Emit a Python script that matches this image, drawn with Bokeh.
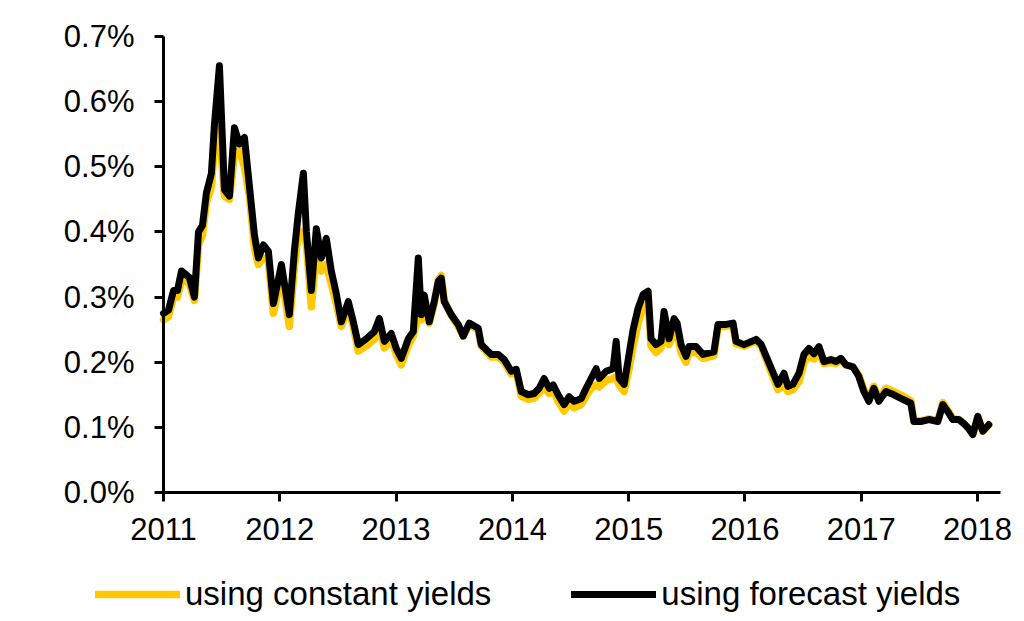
from bokeh.plotting import figure
from bokeh.models import (Legend, LegendItem, FixedTicker, PrintfTickFormatter,
                          Range1d, ColumnDataSource)
from bokeh.embed import file_html
from bokeh.resources import INLINE

# decimal years of the readings
dates = [
    2011.000, 2011.043, 2011.086, 2011.120, 2011.155, 2011.189, 2011.223, 2011.266,
    2011.301, 2011.335, 2011.369, 2011.412, 2011.438, 2011.481, 2011.524, 2011.567,
    2011.610, 2011.653, 2011.696, 2011.739, 2011.782, 2011.816, 2011.859, 2011.902,
    2011.945, 2012.014, 2012.082, 2012.125, 2012.160, 2012.203, 2012.229, 2012.271,
    2012.314, 2012.357, 2012.400, 2012.443, 2012.486, 2012.529, 2012.589, 2012.632,
    2012.675, 2012.744, 2012.813, 2012.856, 2012.899, 2012.959, 2013.002, 2013.045,
    2013.105, 2013.148, 2013.191, 2013.216, 2013.242, 2013.285, 2013.328, 2013.363,
    2013.388, 2013.414, 2013.474, 2013.534, 2013.577, 2013.629, 2013.706, 2013.732,
    2013.818, 2013.878, 2013.930, 2013.990, 2014.033, 2014.076, 2014.136, 2014.187,
    2014.230, 2014.273, 2014.316, 2014.351, 2014.393, 2014.445, 2014.488, 2014.531,
    2014.591, 2014.634, 2014.677, 2014.720, 2014.746, 2014.806, 2014.866, 2014.892,
    2014.918, 2014.961, 2015.003, 2015.038, 2015.081, 2015.124, 2015.167, 2015.192,
    2015.235, 2015.278, 2015.304, 2015.347, 2015.390, 2015.416, 2015.450, 2015.493,
    2015.519, 2015.579, 2015.639, 2015.733, 2015.768, 2015.837, 2015.897, 2015.923,
    2015.991, 2016.095, 2016.137, 2016.284, 2016.335, 2016.369, 2016.412, 2016.464,
    2016.507, 2016.550, 2016.593, 2016.636, 2016.679, 2016.739, 2016.782, 2016.825,
    2016.868, 2016.928, 2016.979, 2017.022, 2017.065, 2017.108, 2017.151, 2017.211,
    2017.280, 2017.357, 2017.426, 2017.452, 2017.512, 2017.581, 2017.658, 2017.701,
    2017.744, 2017.787, 2017.838, 2017.881, 2017.924, 2017.959, 2018.002, 2018.045,
    2018.096,
]

# using forecast yields (%)
forecast_yields = [
    0.275, 0.280, 0.310, 0.310, 0.340, 0.335, 0.330, 0.300,
    0.400, 0.410, 0.460, 0.490, 0.565, 0.655, 0.465, 0.455,
    0.560, 0.535, 0.545, 0.470, 0.395, 0.360, 0.380, 0.370,
    0.290, 0.350, 0.273, 0.370, 0.430, 0.490, 0.400, 0.310,
    0.405, 0.360, 0.390, 0.340, 0.305, 0.262, 0.293, 0.262,
    0.227, 0.236, 0.247, 0.267, 0.232, 0.244, 0.221, 0.206,
    0.236, 0.247, 0.360, 0.273, 0.303, 0.262, 0.293, 0.324,
    0.329, 0.293, 0.273, 0.258, 0.240, 0.260, 0.252, 0.227,
    0.212, 0.212, 0.204, 0.186, 0.189, 0.155, 0.150, 0.152,
    0.160, 0.175, 0.160, 0.165, 0.150, 0.135, 0.147, 0.140,
    0.144, 0.160, 0.175, 0.190, 0.175, 0.186, 0.190, 0.232,
    0.175, 0.166, 0.212, 0.250, 0.283, 0.304, 0.309, 0.236,
    0.227, 0.232, 0.278, 0.236, 0.267, 0.260, 0.227, 0.209,
    0.224, 0.224, 0.212, 0.216, 0.258, 0.258, 0.260, 0.232,
    0.227, 0.235, 0.228, 0.166, 0.183, 0.163, 0.166, 0.183,
    0.212, 0.221, 0.213, 0.224, 0.201, 0.204, 0.201, 0.206,
    0.196, 0.193, 0.178, 0.155, 0.140, 0.160, 0.140, 0.155,
    0.150, 0.143, 0.137, 0.109, 0.109, 0.112, 0.109, 0.135,
    0.124, 0.112, 0.112, 0.106, 0.098, 0.089, 0.117, 0.094,
    0.104,
]

# using constant yields (%)
constant_yields = [
    0.265, 0.270, 0.300, 0.300, 0.325, 0.325, 0.320, 0.295,
    0.380, 0.395, 0.445, 0.470, 0.530, 0.560, 0.455, 0.450,
    0.520, 0.525, 0.500, 0.455, 0.375, 0.350, 0.360, 0.355,
    0.275, 0.335, 0.255, 0.345, 0.400, 0.400, 0.380, 0.285,
    0.370, 0.340, 0.350, 0.320, 0.290, 0.255, 0.285, 0.255,
    0.217, 0.225, 0.235, 0.255, 0.222, 0.235, 0.212, 0.196,
    0.226, 0.240, 0.270, 0.265, 0.285, 0.260, 0.290, 0.326,
    0.333, 0.295, 0.272, 0.255, 0.240, 0.258, 0.250, 0.225,
    0.208, 0.208, 0.200, 0.182, 0.185, 0.148, 0.143, 0.145,
    0.153, 0.162, 0.152, 0.157, 0.140, 0.125, 0.137, 0.130,
    0.135, 0.148, 0.160, 0.165, 0.162, 0.172, 0.175, 0.178,
    0.165, 0.155, 0.190, 0.225, 0.260, 0.285, 0.290, 0.225,
    0.215, 0.222, 0.245, 0.227, 0.245, 0.245, 0.215, 0.200,
    0.215, 0.215, 0.206, 0.210, 0.255, 0.255, 0.257, 0.228,
    0.225, 0.232, 0.225, 0.158, 0.165, 0.155, 0.158, 0.170,
    0.200, 0.210, 0.205, 0.215, 0.198, 0.200, 0.198, 0.204,
    0.196, 0.193, 0.180, 0.158, 0.143, 0.163, 0.144, 0.160,
    0.155, 0.148, 0.141, 0.110, 0.110, 0.113, 0.110, 0.138,
    0.126, 0.113, 0.112, 0.106, 0.098, 0.089, 0.115, 0.094,
    0.104,
]

year_ticks = [2011, 2012, 2013, 2014, 2015, 2016, 2017, 2018]
pct_ticks = [0.0, 0.1, 0.2, 0.3, 0.4, 0.5, 0.6, 0.7]
series_names = ["using constant yields", "using forecast yields"]
series_colors = ["#FFC800", "#000000"]

FONT = "Liberation Sans"

# frame covers the whole canvas; axes are pinned at 2011 / 0.0%
p = figure(width=1016, height=613, output_backend="svg", toolbar_location=None,
           x_range=Range1d(2009.5985, 2018.3345), y_range=Range1d(-0.18575, 0.75526),
           min_border=0)
p.outline_line_color = None
p.xgrid.visible = False
p.ygrid.visible = False
p.background_fill_color = "white"
p.border_fill_color = "white"

src = ColumnDataSource(dict(x=dates, c=constant_yields, f=forecast_yields))
r1 = p.line("x", "c", source=src, line_color=series_colors[0], line_width=7.5,
            line_join="round", line_cap="round")
r2 = p.line("x", "f", source=src, line_color=series_colors[1], line_width=7,
            line_join="round", line_cap="round")

for ax in (p.xaxis[0], p.yaxis[0]):
    ax.axis_line_width = 3
    ax.axis_line_color = "black"
    ax.major_tick_line_width = 3
    ax.major_tick_line_color = "black"
    ax.major_tick_out = 9
    ax.major_tick_in = 0
    ax.minor_tick_line_color = None
    ax.major_label_text_font = FONT
    ax.major_label_text_font_size = "31px"
    ax.major_label_text_color = "black"

p.xaxis.ticker = FixedTicker(ticks=year_ticks)
p.xaxis.formatter = PrintfTickFormatter(format="%d")
p.xaxis.major_label_standoff = 17
p.xaxis.fixed_location = 0
p.xaxis.bounds = (2011, 2018.198)
p.yaxis.ticker = FixedTicker(ticks=pct_ticks)
p.yaxis.formatter = PrintfTickFormatter(format="%.1f%%")
p.yaxis.major_label_standoff = 20
p.yaxis.fixed_location = 2011
p.yaxis.bounds = (0, 0.7)

legend = Legend(items=[LegendItem(label=series_names[0], renderers=[r1]),
                       LegendItem(label=series_names[1], renderers=[r2])],
                orientation="horizontal", location=(95, 0),
                glyph_width=85, glyph_height=32, label_standoff=5, spacing=80,
                padding=0, margin=0,
                label_text_font=FONT, label_text_font_size="33px",
                label_text_color="black",
                border_line_alpha=0, background_fill_alpha=0)
p.add_layout(legend, "center")

open("out.html", "w").write(file_html(p, INLINE))
